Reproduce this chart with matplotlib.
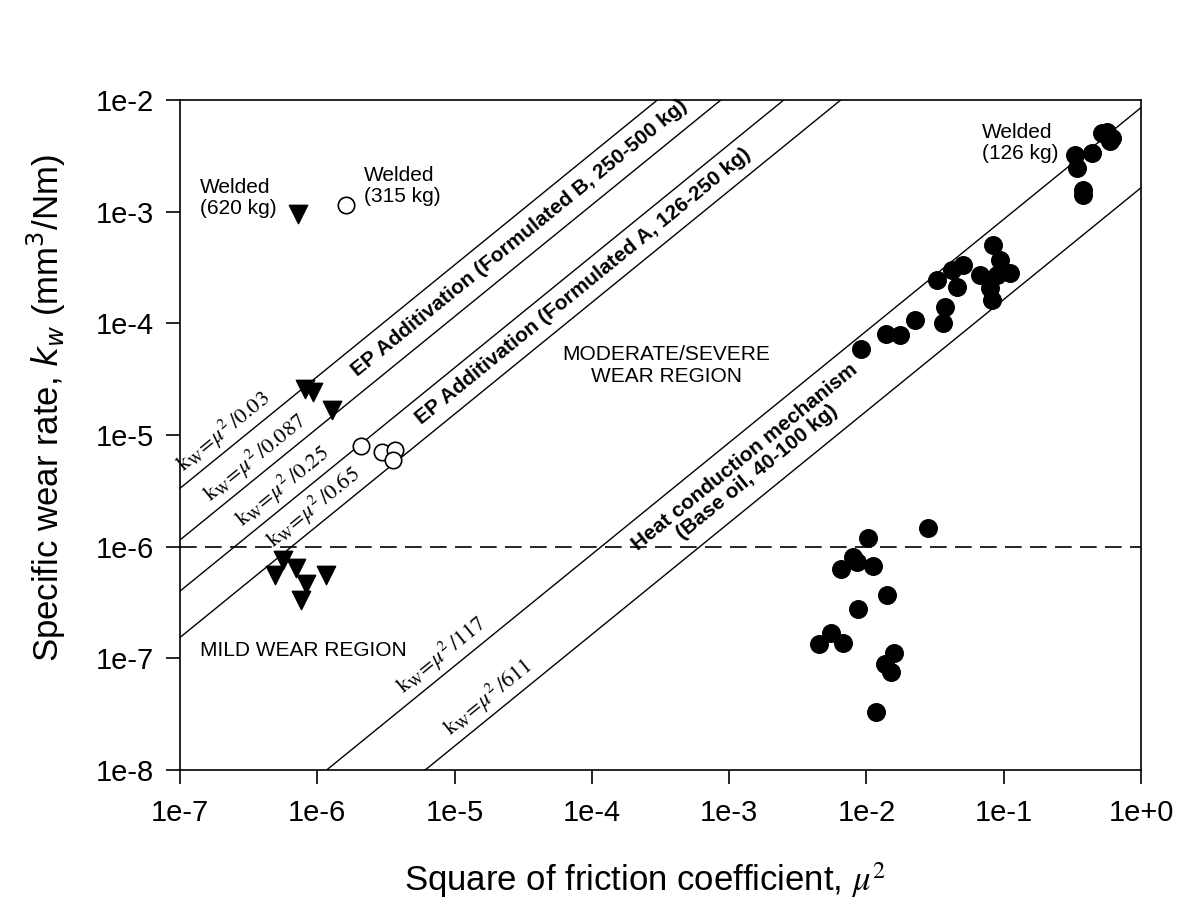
import numpy as np
import matplotlib
matplotlib.use("Agg")
import matplotlib.pyplot as plt

plt.rcParams["font.family"] = ["Liberation Sans", "DejaVu Sans"]
plt.rcParams["mathtext.fontset"] = "stix"

# 3 ball tests: square of friction coefficient vs specific wear rate
tri_mu2 = [7.2e-7, 8.1e-7, 9.3e-7, 1.27e-6,
           5.6e-7, 4.9e-7, 7.0e-7, 8.3e-7, 7.6e-7, 1.16e-6]
tri_kw = [9.5e-4, 2.6e-5, 2.45e-5, 1.68e-5,
          7.6e-7, 5.6e-7, 6.4e-7, 4.65e-7, 3.35e-7, 5.6e-7]

open_mu2 = [1.62e-6, 2.07e-6, 2.94e-6, 3.68e-6, 3.57e-6]
open_kw = [1.15e-3, 7.98e-6, 7.1e-6, 7.35e-6, 5.98e-6]

dot_mu2 = [0.33, 0.34, 0.376, 0.376, 0.437, 0.516, 0.562, 0.611, 0.59,
           0.084, 0.0938, 0.111, 0.0887, 0.0671, 0.0793, 0.0825,
           0.0325, 0.0417, 0.0507, 0.0454, 0.0373, 0.0362,
           0.0225, 0.0175, 0.0139, 0.00907,
           0.0282, 0.0103, 0.00801, 0.00849, 0.00649, 0.0111, 0.0142,
           0.00871, 0.00548, 0.00451, 0.0067, 0.0159, 0.0136, 0.0151, 0.0117]
dot_kw = [3.22e-3, 2.45e-3, 1.56e-3, 1.41e-3, 3.37e-3, 5.03e-3, 5.2e-3, 4.6e-3, 4.3e-3,
          5.04e-4, 3.7e-4, 2.81e-4, 2.71e-4, 2.71e-4, 2.06e-4, 1.62e-4,
          2.45e-4, 3.0e-4, 3.33e-4, 2.13e-4, 1.41e-4, 1.0e-4,
          1.07e-4, 7.87e-5, 7.98e-5, 5.86e-5,
          1.47e-6, 1.19e-6, 8.05e-7, 7.36e-7, 6.3e-7, 6.73e-7, 3.7e-7,
          2.77e-7, 1.68e-7, 1.35e-7, 1.37e-7, 1.11e-7, 8.92e-8, 7.57e-8, 3.34e-8]

# k_w = mu^2 / c
line_c = [0.03, 0.087, 0.25, 0.65, 117, 611]
line_lbl = ["0.03", "0.087", "0.25", "0.65", "117", "611"]
lbl_start = [1.14e-7, 1.8e-7, 3.1e-7, 5.2e-7, 4.6e-6, 1.0e-5]

xticks = [1e-7, 1e-6, 1e-5, 1e-4, 1e-3, 1e-2, 1e-1, 1e0]
xtick_lbl = ["1e-7", "1e-6", "1e-5", "1e-4", "1e-3", "1e-2", "1e-1", "1e+0"]
yticks = [1e-8, 1e-7, 1e-6, 1e-5, 1e-4, 1e-3, 1e-2]
ytick_lbl = ["1e-8", "1e-7", "1e-6", "1e-5", "1e-4", "1e-3", "1e-2"]

fig = plt.figure(figsize=(12.03, 9.09), dpi=100)
ax = fig.add_axes([180 / 1203, 1 - 770 / 909, 961 / 1203, 670 / 909])
ax.set_xscale("log")
ax.set_yscale("log")
ax.set_xlim(1e-7, 1e0)
ax.set_ylim(1e-8, 1e-2)

xx = np.array([1e-7, 1e0])
for c in line_c:
    ax.plot(xx, xx / c, color="black", lw=1.0)
ax.axhline(1e-6, color="black", lw=1.2, ls=(0, (10, 5)))

ax.scatter(tri_mu2, tri_kw, marker="v", s=175, color="black", zorder=3)
ax.scatter(open_mu2, open_kw, marker="o", s=140, facecolor="white",
           edgecolor="black", lw=1.2, zorder=3)
ax.scatter(dot_mu2, dot_kw, marker="o", s=160, color="black", zorder=3)

# slope angle of the lines on screen
p0, p1 = ax.transData.transform([(1e-7, 1e-7), (1e-1, 1e-1)])
ang = np.degrees(np.arctan2(p1[1] - p0[1], p1[0] - p0[0]))

for c, lab, x0 in zip(line_c, line_lbl, lbl_start):
    ax.text(x0, x0 / c * 1.08, r"$\mathrm{k_W\!=\!}\mu^{2}\,\mathrm{/" + lab + "}$",
            rotation=ang, rotation_mode="anchor", ha="left", va="bottom",
            fontsize=16, math_fontfamily="stix")

def between(x, c1, c2):
    return x / np.sqrt(c1 * c2)

xb = 2.99e-5
ax.text(xb, between(xb, 0.03, 0.087), "EP Additivation (Formulated B, 250-500 kg)",
        rotation=ang, rotation_mode="anchor", ha="center", va="center",
        fontsize=15, fontweight="bold")
xa = 8.6e-5
ax.text(xa, between(xa, 0.25, 0.65), "EP Additivation (Formulated A, 126-250 kg)",
        rotation=ang, rotation_mode="anchor", ha="center", va="center",
        fontsize=15, fontweight="bold")
xh = 1.45e-3
ax.text(xh, between(xh, 117, 611), "Heat conduction mechanism\n(Base oil, 40-100 kg)",
        rotation=ang, rotation_mode="anchor", ha="center", va="center",
        fontsize=15, fontweight="bold", multialignment="center", linespacing=1.0)

ax.text(3.5e-4, 4.2e-5, "MODERATE/SEVERE\nWEAR REGION", ha="center", va="center",
        fontsize=15, linespacing=1.2)
ax.text(1.4e-7, 1.17e-7, "MILD WEAR REGION", ha="left", va="center", fontsize=15)
ax.text(1.4e-7, 1.33e-3, "Welded\n(620 kg)", ha="left", va="center", fontsize=15,
        linespacing=1.15)
ax.text(2.2e-6, 1.7e-3, "Welded\n(315 kg)", ha="left", va="center", fontsize=15,
        linespacing=1.15)
ax.text(0.069, 4.1e-3, "Welded\n(126 kg)", ha="left", va="center", fontsize=15,
        linespacing=1.15)

ax.set_xticks(xticks)
ax.set_xticklabels(xtick_lbl)
ax.set_yticks(yticks)
ax.set_yticklabels(ytick_lbl)
ax.minorticks_off()
ax.tick_params(direction="out", length=10, width=1.2, labelsize=21)
ax.tick_params(axis="x", pad=11)
ax.tick_params(axis="y", pad=9)
for sp in ax.spines.values():
    sp.set_linewidth(1.2)

ax.set_xlabel(r"Square of friction coefficient, $\mu^2$", fontsize=25,
              math_fontfamily="stix")
ax.xaxis.set_label_coords(0.484, -0.135)
ax.set_ylabel(r"Specific wear rate, $k_w$ (mm$^3$/Nm)", fontsize=25,
              math_fontfamily="dejavusans")
ax.yaxis.set_label_coords(-0.117, 0.54)

fig.savefig("out.png", dpi=100)
